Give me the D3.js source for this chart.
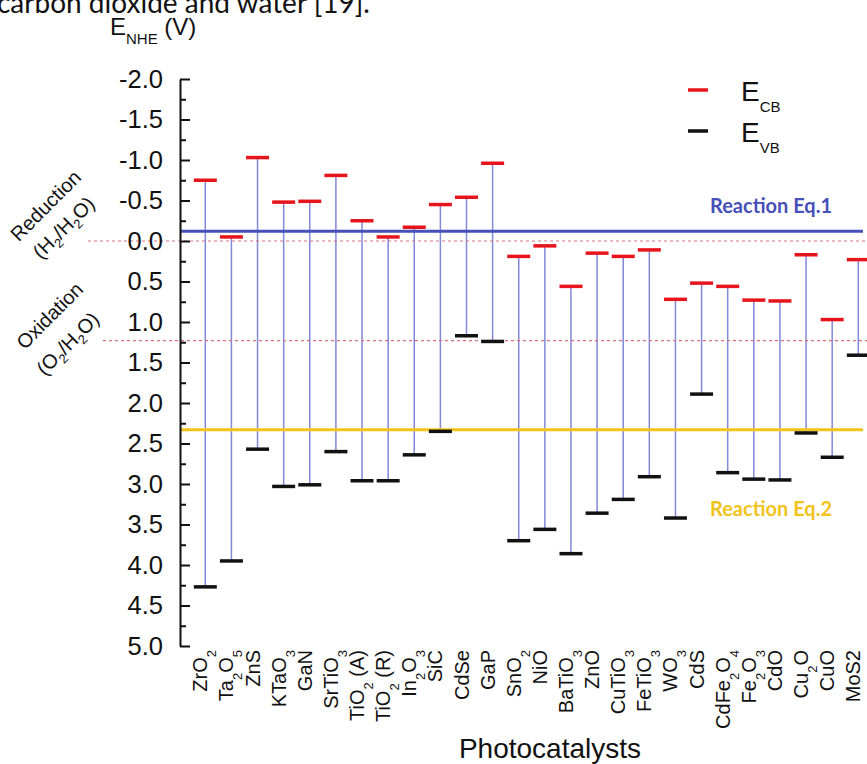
<!DOCTYPE html>
<html><head><meta charset="utf-8">
<script src="https://cdn.jsdelivr.net/npm/d3@7/dist/d3.min.js"></script>
<style>body{margin:0;background:#fff}svg{display:block}</style>
</head><body>
<script>
// ---------- data ----------
const categories = ["ZrO2","Ta2O5","ZnS","KTaO3","GaN","SrTiO3","TiO2 (A)","TiO2 (R)","In2O3","SiC","CdSe","GaP","SnO2","NiO","BaTiO3","ZnO","CuTiO3","FeTiO3","WO3","CdS","CdFe2O4","Fe2O3","CdO","Cu2O","CuO","MoS2"];
const labelMarkup = ["ZrO_2","Ta_2O_5","ZnS","KTaO_3","GaN","SrTiO_3","TiO_2 (A)","TiO_2 (R)","In_2O_3","SiC","CdSe","GaP","SnO_2","NiO","BaTiO_3","ZnO","CuTiO_3","FeTiO_3","WO_3","CdS","CdFe_2O_4","Fe_2O_3","CdO","Cu_2O","CuO","MoS2"];
const eCB = [-0.75,-0.05,-1.03,-0.48,-0.49,-0.81,-0.25,-0.05,-0.17,-0.45,-0.54,-0.96,0.19,0.06,0.56,0.15,0.19,0.11,0.72,0.52,0.56,0.73,0.74,0.17,0.97,0.23];
const eVB = [4.27,3.95,2.57,3.03,3.01,2.60,2.96,2.96,2.64,2.35,1.17,1.24,3.70,3.56,3.86,3.36,3.19,2.91,3.42,1.89,2.86,2.94,2.95,2.37,2.67,1.41];
const yTickValues = [-2.0,-1.5,-1.0,-0.5,0.0,0.5,1.0,1.5,2.0,2.5,3.0,3.5,4.0,4.5,5.0];
const yMinorValues = [-1.75,-1.25,-0.75,-0.25,0.25,0.75,1.25,1.75,2.25,2.75,3.25,3.75,4.25,4.75];
const waterLevels = [0.0, 1.23];
const waterStartX = [88, 103];
const reactionLevels = [-0.12, 2.33];
const reactionNames = ["Reaction Eq.1","Reaction Eq.2"];
const reactionColors = ["#4650b8","#f2c318"];
const reactionLabelY = [-0.34, 3.39];

// ---------- setup ----------
const W = 867, H = 764;
const svg = d3.select("body").append("svg").attr("width", W).attr("height", H)
  .style("font-family", "'Liberation Sans', Arial, sans-serif");
const y = d3.scaleLinear().domain([-2, 5]).range([79, 646]);
const x = d3.scalePoint().domain(categories).range([205.3, 858.3]);
const axisX = 180;
const data = categories.map((c, i) => ({c, cb: eCB[i], vb: eVB[i], label: labelMarkup[i]}));

// top clipped sentence
svg.append("text").attr("x", -3).attr("y", 13)
  .style("font-family", "Lato, 'Open Sans', sans-serif").style("font-size", "28px").attr("fill", "#111")
  .text("carbon dioxide and water [19].");

// stems
svg.append("g").selectAll("line").data(data).join("line")
  .attr("x1", d => x(d.c)).attr("x2", d => x(d.c))
  .attr("y1", d => y(d.cb)).attr("y2", d => y(d.vb))
  .attr("stroke", "#8088d8").attr("stroke-width", 1.5);

// water redox dashed lines
svg.append("g").selectAll("line").data(waterLevels).join("line")
  .attr("x1", (d, i) => waterStartX[i]).attr("x2", W)
  .attr("y1", d => y(d)).attr("y2", d => y(d))
  .attr("stroke", "#d9707c").attr("stroke-width", 1.2).attr("stroke-dasharray", "3,3");

// reaction lines
svg.append("g").selectAll("line").data(reactionLevels).join("line")
  .attr("x1", axisX).attr("x2", 863)
  .attr("y1", d => y(d)).attr("y2", d => y(d))
  .attr("stroke", (d, i) => reactionColors[i]).attr("stroke-width", 3);

// reaction labels
svg.append("g").selectAll("text").data(reactionNames).join("text")
  .attr("x", 771).attr("y", (d, i) => y(reactionLabelY[i]))
  .attr("text-anchor", "middle")
  .style("font-family", "Lato, 'Open Sans', sans-serif").style("font-weight", "bold").style("font-size", "20px")
  .attr("fill", (d, i) => reactionColors[i]).text(d => d);

// caps
const capW = 23;
svg.append("g").selectAll("line").data(data).join("line")
  .attr("x1", d => x(d.c) - capW / 2).attr("x2", d => x(d.c) + capW / 2)
  .attr("y1", d => y(d.cb)).attr("y2", d => y(d.cb))
  .attr("stroke", "#e8141c").attr("stroke-width", 3.5);
svg.append("g").selectAll("line").data(data).join("line")
  .attr("x1", d => x(d.c) - capW / 2).attr("x2", d => x(d.c) + capW / 2)
  .attr("y1", d => y(d.vb)).attr("y2", d => y(d.vb))
  .attr("stroke", "#111").attr("stroke-width", 3.5);

// y axis
const fmt = v => v.toFixed(1);
const yAxis = d3.axisLeft(y).tickValues(yTickValues).tickSizeInner(-10).tickSizeOuter(0).tickPadding(17).tickFormat(fmt);
const gy = svg.append("g").attr("transform", `translate(${axisX},0)`).call(yAxis);
gy.select(".domain").attr("stroke", "#111").attr("stroke-width", 2);
gy.selectAll(".tick line").attr("stroke", "#111").attr("stroke-width", 2);
gy.selectAll(".tick text").style("font-size", "25.5px").style("font-family", "'Liberation Sans', Arial, sans-serif").attr("fill", "#111");
const yMinor = d3.axisLeft(y).tickValues(yMinorValues).tickSizeInner(-6).tickSizeOuter(0).tickFormat("");
const gm = svg.append("g").attr("transform", `translate(${axisX},0)`).call(yMinor);
gm.select(".domain").remove();
gm.selectAll(".tick line").attr("stroke", "#111").attr("stroke-width", 2);

// rotated x labels with subscripts
function addRich(sel, markup, subSize, shift) {
  const parts = markup.split(/(_\d)/).filter(s => s.length);
  let cur = 0;
  parts.forEach(p => {
    const isSub = p[0] === "_";
    const t = sel.append("tspan").text(isSub ? p.slice(1) : p);
    const target = isSub ? shift : 0;
    if (target !== cur) t.attr("dy", target - cur);
    if (isSub) t.style("font-size", subSize + "px");
    cur = target;
  });
}
const xl = svg.append("g").selectAll("text").data(data).join("text")
  .attr("transform", d => `translate(${x(d.c) + 2},650) rotate(-90)`)
  .attr("text-anchor", "end").style("font-size", "20px").attr("fill", "#111");
xl.each(function(d) { addRich(d3.select(this), d.label, 13, 9); });

// x axis title
svg.append("text").attr("x", 550).attr("y", 758).attr("text-anchor", "middle")
  .style("font-size", "28px").attr("fill", "#111").text("Photocatalysts");

// y axis title  E_NHE (V)
const yt = svg.append("text").attr("x", 110).attr("y", 35).style("font-size", "24px").attr("fill", "#111");
yt.append("tspan").text("E");
yt.append("tspan").attr("dy", 9).style("font-size", "15px").text("NHE");
yt.append("tspan").attr("dy", -9).text(" (V)");

// legend
const legendItems = [{c: "#e8141c", sub: "CB", yy: 90}, {c: "#111", sub: "VB", yy: 131}];
const lg = svg.append("g");
lg.selectAll("line").data(legendItems).join("line")
  .attr("x1", 688).attr("x2", 708).attr("y1", d => d.yy).attr("y2", d => d.yy)
  .attr("stroke", d => d.c).attr("stroke-width", 3.5);
lg.selectAll("text").data(legendItems).join("text")
  .attr("x", 741).attr("y", d => d.yy + 11).style("font-size", "28px").attr("fill", "#111")
  .each(function(d) {
    const t = d3.select(this);
    t.append("tspan").text("E");
    t.append("tspan").attr("dy", 11).style("font-size", "15px").text(d.sub);
  });

// side labels
function sideLabel(cx, cy, markup) {
  const t = svg.append("text").attr("transform", `translate(${cx},${cy}) rotate(-45)`)
    .attr("text-anchor", "middle").attr("dominant-baseline", "middle")
    .style("font-size", "20px").attr("fill", "#111");
  addRich(t, markup, 13, 7);
}
sideLabel(47, 207, "Reduction");
sideLabel(65, 229, "(H_2/H_2O)");
sideLabel(51, 317, "Oxidation");
sideLabel(69, 345, "(O_2/H_2O)");
</script>
</body></html>
